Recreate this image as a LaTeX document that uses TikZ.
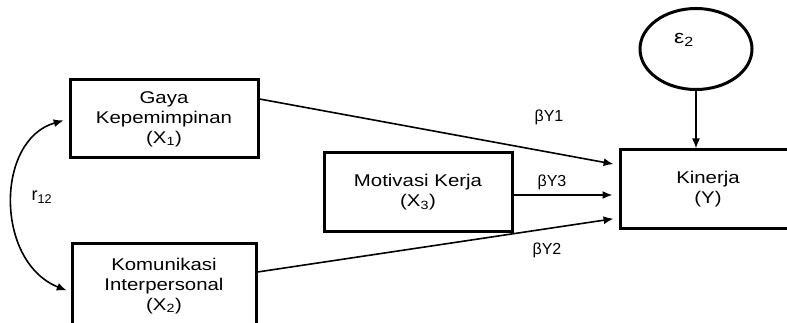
\documentclass[tikz,border=0pt]{standalone}
\usepackage{fontspec}
\setmainfont{Liberation Sans}
\newfontfamily\boxfont{Liberation Sans}[FakeStretch=1.2]
\usetikzlibrary{shapes.geometric,arrows.meta}
\begin{document}
\begin{tikzpicture}[x=1pt,y=-1pt,
  var/.style={draw,line width=3pt,inner sep=0pt,align=center,
    font=\boxfont\fontsize{17}{20}\selectfont},
  lbl/.style={inner sep=0pt,font=\fontsize{16}{18}\selectfont},
  arr/.style={line width=1.6pt,-{Latex[length=10pt,width=8pt]}},
  ]
\clip (0,0) rectangle (787,323);
\node[var,minimum width=188,minimum height=78] (X1) at (164,119)
  {Gaya\\Kepemimpinan\\(X\textsubscript{1})};
\node[var,minimum width=184,minimum height=86] (X2) at (164,286)
  {Komunikasi\\Interpersonal\\(X\textsubscript{2})};
\node[var,minimum width=188,minimum height=79] (X3) at (418,192.5)
  {Motivasi Kerja\\(X\textsubscript{3})};
\node[var,minimum width=176,minimum height=79] (Y) at (708,189.5)
  {Kinerja\\(Y)};
\node[draw,ellipse,line width=3pt,minimum width=112,minimum height=81] (eps) at (696,49) {};
\node[inner sep=0pt,font=\boxfont\fontsize{19}{20}\selectfont] (epst) at (684,40) {ε\textsubscript{2}};

\draw[arr,shorten >=5pt] ([yshift=20pt]X1.east) -- ([yshift=24.5pt]Y.west);
\draw[arr,shorten >=6pt] ([yshift=-2.5pt]X3.east) -- ([yshift=-2.5pt]X3.east -| Y.west);
\draw[arr,shorten >=5pt] ([yshift=14pt]X2.east) -- ([yshift=-28.5pt]Y.west);
\draw[arr] (eps.south) -- (eps.south |- Y.north);
\draw[line width=1.6pt,{Latex[length=10pt,width=8pt]}-{Latex[length=10pt,width=8pt]},shorten <=5pt,shorten >=4pt]
  (X1.west) .. controls (-5,140) and (-5,262) .. ([yshift=-6pt]X2.west);

\node[lbl] (b1) at (549,117) {βY1};
\node[lbl] (b3) at (552,182) {βY3};
\node[lbl] (b2) at (547,250) {βY2};
\node[inner sep=0pt,font=\fontsize{18}{20}\selectfont] (r12) at (42,197) {r\textsubscript{12}};
\end{tikzpicture}
\end{document}
